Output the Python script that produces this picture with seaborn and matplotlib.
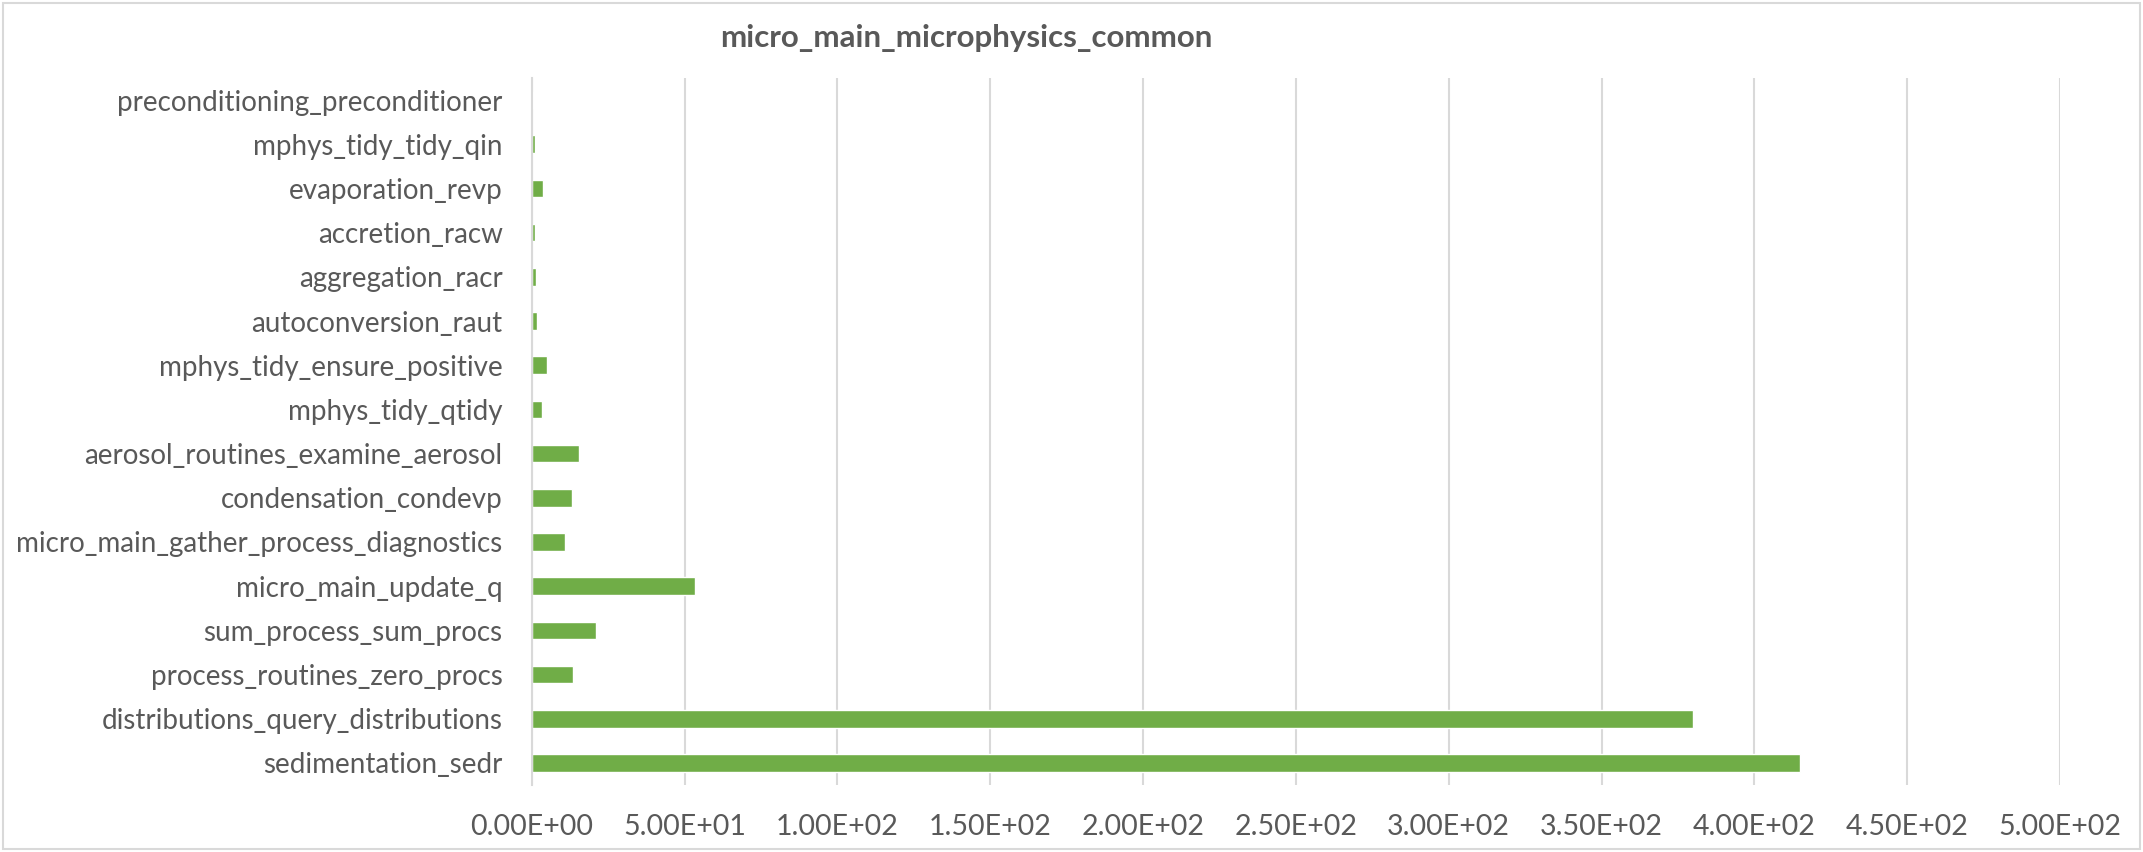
import numpy as np
import pandas as pd
import seaborn as sns
from matplotlib import pyplot as plt
from matplotlib.patches import Rectangle
from matplotlib.ticker import FuncFormatter

# routines, top to bottom as drawn
routines = ['preconditioning_preconditioner', 'mphys_tidy_tidy_qin', 'evaporation_revp',
            'accretion_racw', 'aggregation_racr', 'autoconversion_raut',
            'mphys_tidy_ensure_positive', 'mphys_tidy_qtidy', 'aerosol_routines_examine_aerosol',
            'condensation_condevp', 'micro_main_gather_process_diagnostics', 'micro_main_update_q',
            'sum_process_sum_procs', 'process_routines_zero_procs',
            'distributions_query_distributions', 'sedimentation_sedr']
times = [0.3, 1.0, 3.8, 1.0, 1.3, 1.8, 4.9, 3.5, 15.6, 13.3, 11.0, 53.3, 21.1, 13.6, 380.0, 415.0]
x_ticks = [0, 50, 100, 150, 200, 250, 300, 350, 400, 450, 500]

df = pd.DataFrame({'routine': routines, 'time': times})

sns.set_style('white')
plt.rcParams['font.family'] = ['Lato', 'DejaVu Sans']
text_col = '#595959'
grid_col = '#D9D9D9'

fig = plt.figure(figsize=(21.43, 8.52), dpi=100)
ax = fig.add_axes([0.2481, 0.0786, 0.9613 - 0.2481, 0.9085 - 0.0786])

sns.barplot(data=df, x='time', y='routine', orient='h', color='#70AD47',
            saturation=1, width=0.4, ax=ax)

ax.set_xlim(0, 500)
ax.set_xticks(x_ticks)
ax.xaxis.set_major_formatter(FuncFormatter(lambda v, p: f'{v:.2E}'))
ax.grid(axis='x', color=grid_col, linewidth=1.5)
ax.set_axisbelow(True)
for s in ['top', 'right', 'bottom']:
    ax.spines[s].set_visible(False)
ax.spines['left'].set_color(grid_col)
ax.spines['left'].set_linewidth(1.5)
ax.tick_params(axis='y', length=0, labelcolor=text_col, labelsize=20, pad=21)
ax.tick_params(axis='x', length=0, labelcolor=text_col, labelsize=20.5, pad=21)
ax.set_xlabel('')
ax.set_ylabel('')

fig.text(966 / 2143, 1 - 38 / 852, 'micro_main_microphysics_common', ha='center', va='center',
         fontsize=22.5, fontweight='bold', color=text_col)

# chart border like the spreadsheet frame
fig.patches.append(Rectangle((0.0015, 0.003), 0.997, 0.994, transform=fig.transFigure,
                             fill=False, edgecolor='#D9D9D9', linewidth=1.5))

plt.savefig('out.png', dpi=100)
plt.close()
